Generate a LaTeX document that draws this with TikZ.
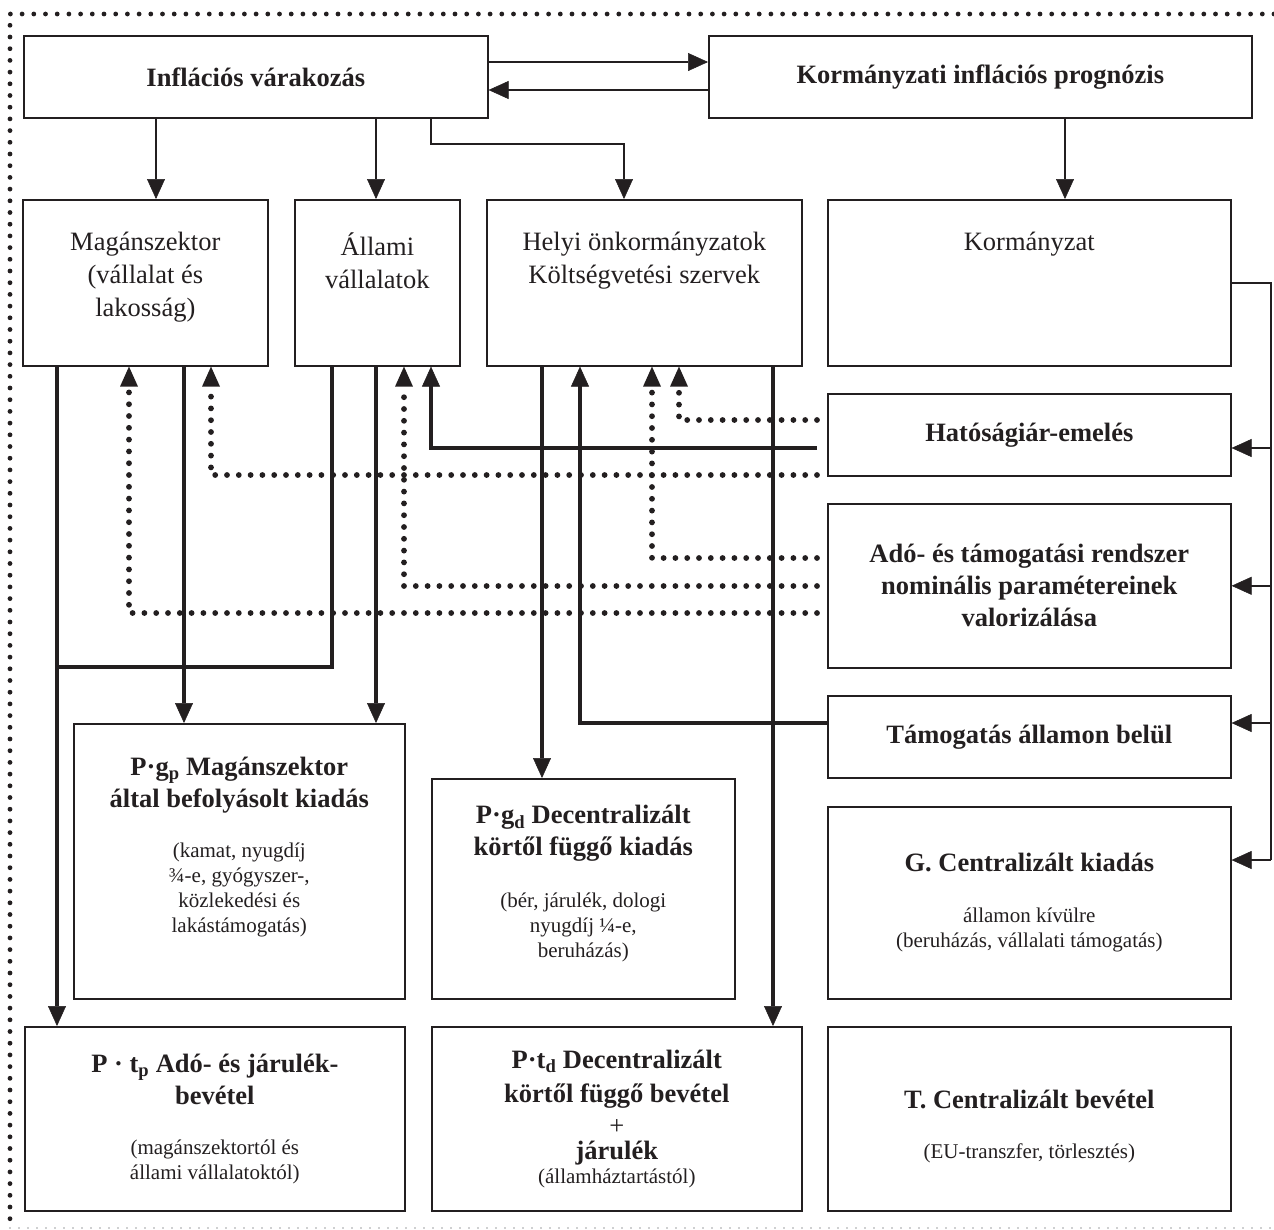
\documentclass[tikz,border=0pt]{standalone}
\usepackage{fontspec}
\setmainfont{Liberation Serif}
\usepackage{xcolor}
\definecolor{diaInk}{HTML}{231F20}
\definecolor{diaFrame}{HTML}{9D9FA2}
\usepackage{tikz}
\usetikzlibrary{arrows.meta,positioning}
\newcommand{\smalltxt}[1]{{\fontsize{21}{25}\selectfont\mdseries #1}}
\tikzset{
    box/.style={
        draw=diaInk,
        line width=1.6pt,
        rectangle,
        anchor=north west,
        inner sep=0pt,
        align=center,
        text=diaInk,
        font=\fontsize{26.5}{32}\selectfont\bfseries
    },
    lbl/.style={
        inner sep=0pt,
        align=center,
        text=diaInk,
        font=\fontsize{26.5}{33}\selectfont
    },
    lblbold/.style={
        lbl,
        font=\fontsize{26.5}{32}\selectfont\bfseries
    },
    arrow/.style={
        -{Triangle[length=20pt,width=18pt,line width=0.5pt]},
        line width=1.8pt,
        color=diaInk
    },
    bigarrow/.style={
        -{Triangle[length=20pt,width=18pt,line width=0.5pt]},
        line width=3.2pt,
        color=diaInk
    },
    bigline/.style={
        line width=3.2pt,
        color=diaInk
    },
    railline/.style={
        line width=1.4pt,
        color=diaInk
    },
    dotarrow/.style={
        -{Triangle[length=20pt,width=18pt,line width=0pt]},
        line width=5.8pt,
        line cap=round,
        dash pattern=on 0pt off 11.8pt,
        color=diaInk,
        shorten <=10pt
    },
    framedots/.style={
        line width=4.8pt,
        line cap=round,
        dash pattern=on 0pt off 11.7pt,
        color=diaInk
    },
    framefaint/.style={
        line width=1.6pt,
        line cap=round,
        dash pattern=on 0pt off 9pt,
        color=diaFrame
    }
}

\begin{document}
\begin{tikzpicture}[x=1pt, y=-1pt]
    \useasboundingbox (0,0) rectangle (1274,1229);

    % Frame
    \draw[framedots] (1274,14) -- (10,14) -- (10,1228);
    \draw[framefaint] (10,1228) -- (1274,1228);

    % Top level - expectations and forecast
    \node[box, minimum width=464pt, minimum height=82pt] (infl) at (23,35) {Inflációs várakozás};
    \node[box, minimum width=543pt, minimum height=82pt] (prog) at (708,35) {Kormányzati inflációs prognózis};

    % Second level - sectors
    \node[box, minimum width=245pt, minimum height=166pt] (mag) at (22,199) {};
    \node[box, minimum width=165pt, minimum height=166pt] (allv) at (294,199) {};
    \node[box, minimum width=315pt, minimum height=166pt] (helyi) at (486,199) {};
    \node[box, minimum width=403pt, minimum height=166pt] (korm) at (827,199) {};
    \node[lbl] (magTxt) at (mag.center |- 0,277) {Magánszektor\\(vállalat és\\lakosság)};
    \node[lbl] (allvTxt) at (allv.center |- 0,260.5) {Állami\\vállalatok};
    \node[lbl] (helyiTxt) at (helyi.center |- 0,260.5) {Helyi önkormányzatok\\Költségvetési szervek};
    \node[lbl] (kormTxt) at (korm.center |- 0,244) {Kormányzat};

    % Right column - government measures
    \node[box, minimum width=403pt, minimum height=82pt] (hat) at (827,393) {Hatóságiár-emelés};
    \node[box, minimum width=403pt, minimum height=164pt] (ado) at (827,503) {Adó- és támogatási rendszer\\nominális paramétereinek\\valorizálása};
    \node[box, minimum width=403pt, minimum height=82pt] (tam) at (827,695) {Támogatás államon belül};
    \node[box, minimum width=403pt, minimum height=192pt] (gcent) at (827,806) {G. Centralizált kiadás\\[19pt]\smalltxt{államon kívülre}\\[-7pt]\smalltxt{(beruházás, vállalati támogatás)}};
    \node[box, minimum width=403pt, minimum height=184pt] (tcent) at (827,1026) {};
    \node[lblbold] (tcentTxt) at (tcent.center |- 0,1127) {T. Centralizált bevétel\\[18pt]\smalltxt{(EU-transzfer, törlesztés)}};

    % Lower levels - spending and revenue
    \node[box, minimum width=331pt, minimum height=275pt] (pgp) at (73,723) {};
    \node[lblbold] (pgpTxt) at (pgp.center |- 0,847) {P·g\textsubscript{p} Magánszektor\\által befolyásolt kiadás\\[18pt]\smalltxt{(kamat, nyugdíj}\\[-7pt]\smalltxt{¾-e, gyógyszer-,}\\[-7pt]\smalltxt{közlekedési és}\\[-7pt]\smalltxt{lakástámogatás)}};
    \node[box, minimum width=303pt, minimum height=220pt] (pgd) at (431,778) {};
    \node[lblbold] (pgdTxt) at (pgd.center |- 0,884) {P·g\textsubscript{d} Decentralizált\\körtől függő kiadás\\[20pt]\smalltxt{(bér, járulék, dologi}\\[-7pt]\smalltxt{nyugdíj ¼-e,}\\[-7pt]\smalltxt{beruházás)}};
    \node[box, minimum width=380pt, minimum height=184pt] (ptp) at (24,1026) {P · t\textsubscript{p} Adó- és járulék-\\bevétel\\[18pt]\smalltxt{(magánszektortól és}\\[-7pt]\smalltxt{állami vállalatoktól)}};
    \node[box, minimum width=370pt, minimum height=184pt] (ptd) at (431,1026) {P·t\textsubscript{d} Decentralizált\\[2pt]körtől függő bevétel\\[0pt]{\mdseries +}\\[-7pt]járulék\\[-8pt]\smalltxt{(államháztartástól)}};

    % Connections - expectations
    \draw[arrow] (infl.east |- 0,62) -- (prog.west |- 0,62);
    \draw[arrow] (prog.west |- 0,90) -- (infl.east |- 0,90);
    \draw[arrow] (156,0 |- infl.south) -- (156,0 |- mag.north);
    \draw[arrow] (376,0 |- infl.south) -- (376,0 |- allv.north);
    \draw[arrow] (431,0 |- infl.south) |- (624,144) -- (624,0 |- helyi.north);
    \draw[arrow] (1065,0 |- prog.south) -- (1065,0 |- korm.north);

    % Connections - government rail
    \coordinate (rail) at (1271,283);
    \draw[railline] (korm.east |- rail) -- (rail) -- (1271,860);
    \draw[arrow] (rail |- 0,448) -- (hat.east |- 0,448);
    \draw[arrow] (rail |- ado.east) -- (ado.east);
    \draw[arrow] (rail |- 0,723) -- (tam.east |- 0,723);
    \draw[arrow] (rail |- 0,860) -- (gcent.east |- 0,860);

    % Connections - spending and revenue
    \draw[bigarrow] (57,0 |- mag.south) -- (57,0 |- ptp.north);
    \draw[bigarrow] (184,0 |- mag.south) -- (184,0 |- pgp.north);
    \draw[bigline] (332,0 |- allv.south) |- (57,667);
    \draw[bigarrow] (376,0 |- allv.south) -- (376,0 |- pgp.north);
    \draw[bigarrow] (542,0 |- helyi.south) -- (542,0 |- pgd.north);
    \draw[bigarrow] (773,0 |- helyi.south) -- (773,0 |- ptd.north);
    \draw[bigarrow] (tam.west |- 0,723) -| (580,0 |- helyi.south);
    \draw[bigarrow, shorten <=10pt] (hat.west |- 0,448) -| (431,0 |- allv.south);

    % Connections - indirect effects (dotted)
    \draw[dotarrow] (hat.west |- 0,420) -| (679,0 |- helyi.south);
    \draw[dotarrow] (hat.west |- 0,475) -| (211,0 |- mag.south);
    \draw[dotarrow] (ado.west |- 0,558) -| (652,0 |- helyi.south);
    \draw[dotarrow] (ado.west |- 0,586) -| (404,0 |- allv.south);
    \draw[dotarrow] (ado.west |- 0,613) -| (129,0 |- mag.south);
\end{tikzpicture}
\end{document}
